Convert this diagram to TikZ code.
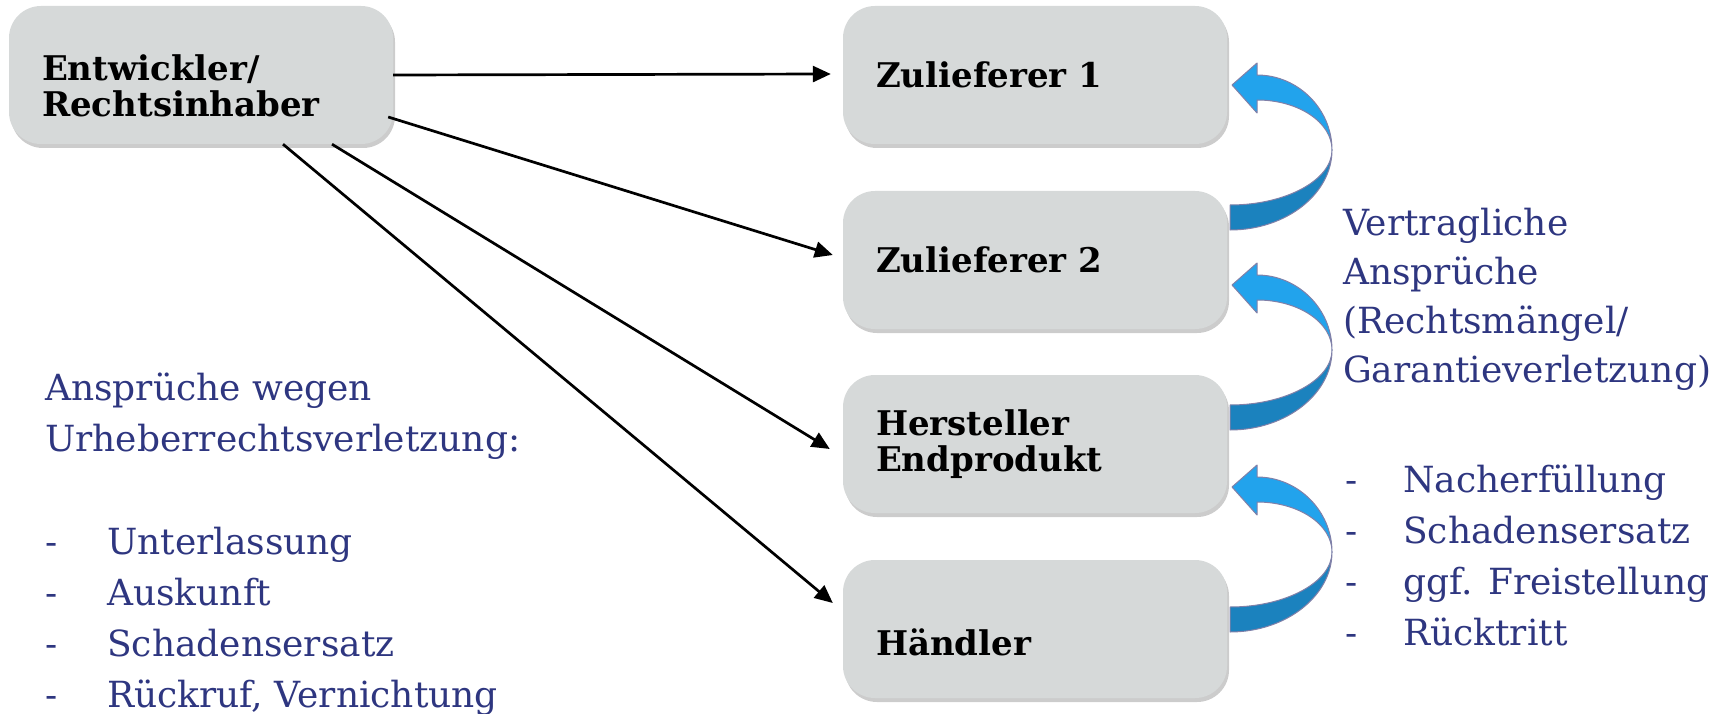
\documentclass[tikz,border=0pt]{standalone}
\usepackage{fontspec}
\setmainfont{DejaVu Serif}
\usetikzlibrary{arrows.meta,shadows}
\definecolor{boxgray}{RGB}{214,217,217}
\definecolor{txtblue}{RGB}{46,54,128}
\definecolor{lightarr}{RGB}{34,163,236}
\definecolor{darkarr}{RGB}{27,130,190}
\definecolor{arredge}{RGB}{128,128,168}
\begin{document}
\begin{tikzpicture}[x=1pt,y=-1pt,
  partybox/.style={rectangle, rounded corners=32pt, fill=boxgray,
    minimum width=384pt, minimum height=138pt, text width=318pt,
    inner xsep=33pt, align=left,
    font=\fontsize{34}{36}\selectfont\bfseries,
    drop shadow={shadow xshift=2pt, shadow yshift=-4pt, opacity=0.4}},
  conn/.style={line width=2.7pt, -{Triangle[length=18pt,width=16pt]}},
  bluetext/.style={text=txtblue, align=left, inner sep=0pt, anchor=base west},
  bentarrow/.pic={
    \filldraw[fill=lightarr, draw=arredge, line width=1pt, line join=round]
      (0,0) -- (25,-22) -- (25,-10)
      .. controls (66,-10) and (100,24) .. (100,65)
      .. controls (100,37) and (66,15) .. (25,15)
      -- (25,28) -- cycle;
    \filldraw[fill=darkarr, draw=arredge, line width=1pt, line join=round]
      (100,65) .. controls (100,95) and (54,120) .. (-2,120)
      -- (-2,145) .. controls (54,145) and (100,109) .. (100,65) -- cycle;
  }
]
\useasboundingbox (0,0) rectangle (1734,714);

\node[partybox] (ent) at (201,75) {\rule{0pt}{47pt}Entwickler/\\Rechtsinhaber};
\node[partybox] (z1) at (1035,75) {Zulieferer 1};
\node[partybox] (z2) at (1035,260) {Zulieferer 2};
\node[partybox] (hst) at (1035,444) {Hersteller\\Endprodukt};
\node[partybox] (hdl) at (1035,629) {\rule{0pt}{53pt}Händler};

\draw[conn] (ent.east) -- ([xshift=-12pt,yshift=1pt]z1.west);
\draw[conn] ([xshift=-5pt,yshift=-42pt]ent.east) -- ([xshift=-10pt,yshift=5pt]z2.west);
\draw[conn] ([xshift=131pt]ent.south) -- ([xshift=-13pt,yshift=-5pt]hst.west);
\draw[conn] ([xshift=82pt]ent.south) -- ([xshift=-10pt,yshift=26pt]hdl.west);

\pic at (1232,85) {bentarrow};
\pic at (1232,285) {bentarrow};
\pic at (1232,487) {bentarrow};

\node[bluetext, font=\fontsize{36}{51}\selectfont] (lefttxt) at (45,707)
  {Ansprüche wegen\\Urheberrechtsverletzung:\\[52pt]
   \makebox[62pt][l]{-}Unterlassung\\
   \makebox[62pt][l]{-}Auskunft\\
   \makebox[62pt][l]{-}Schadensersatz\\
   \makebox[62pt][l]{-}Rückruf, Vernichtung};

\node[bluetext, font=\fontsize{36}{49}\selectfont] (righttxt) at (1343,382)
  {Vertragliche\\Ansprüche\\(Rechtsmängel/\\Garantieverletzung)};

\node[bluetext, font=\fontsize{36}{51}\selectfont] (rightlist) at (1345,645)
  {\makebox[58pt][l]{-}Nacherfüllung\\
   \makebox[58pt][l]{-}Schadensersatz\\
   \makebox[58pt][l]{-}ggf. Freistellung\\
   \makebox[58pt][l]{-}Rücktritt};
\end{tikzpicture}
\end{document}
